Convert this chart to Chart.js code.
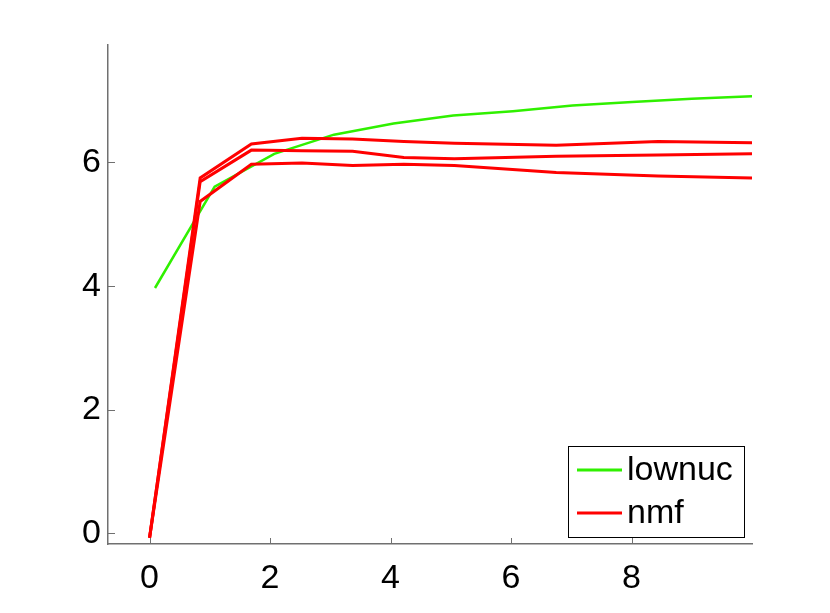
<!DOCTYPE html>
<html><head><meta charset="utf-8">
<script src="https://cdn.jsdelivr.net/npm/chart.js@4/dist/chart.umd.min.js"></script>
<style>html,body{margin:0;padding:0;background:#fff}</style>
</head><body>
<canvas id="c" width="830" height="613"></canvas>
<script>
const xTicks = [0, 2, 4, 6, 8];
const yTicks = [0, 2, 4, 6];
const seriesNames = ['lownuc', 'nmf'];
const xLownuc = [0.09, 1.08, 2.07, 3.06, 4.05, 5.04, 6.03, 7.02, 8.01, 9.0, 10];
const lownuc  = [3.97, 5.61, 6.14, 6.45, 6.63, 6.76, 6.83, 6.92, 6.98, 7.03, 7.07];
const xNmf = [0, 0.84, 1.69, 2.53, 3.37, 4.22, 5.06, 6.75, 8.44, 10];
const nmfA = [-0.07, 5.75, 6.30, 6.39, 6.38, 6.34, 6.31, 6.28, 6.34, 6.32];
const nmfB = [-0.07, 5.69, 6.20, 6.19, 6.18, 6.08, 6.06, 6.10, 6.12, 6.14];
const nmfC = [-0.07, 5.37, 5.97, 5.99, 5.95, 5.97, 5.95, 5.84, 5.78, 5.75];

const GREEN = '#30f000', RED = '#ff0000', AXIS = '#707070';
const FONT = '"Liberation Sans", Arial, sans-serif';
const pts = (xs, ys) => xs.map((x, i) => ({x, y: ys[i]}));

const ds = [
  {label: seriesNames[0], data: pts(xLownuc, lownuc), borderColor: GREEN, borderWidth: 2.5, order: 4},
  {label: seriesNames[1], data: pts(xNmf, nmfA), borderColor: RED, borderWidth: 3, order: 1},
  {label: seriesNames[1], data: pts(xNmf, nmfB), borderColor: RED, borderWidth: 3, order: 2},
  {label: seriesNames[1], data: pts(xNmf, nmfC), borderColor: RED, borderWidth: 3, order: 3}
].map(d => Object.assign(d, {pointRadius: 0, tension: 0, fill: false}));

const innerTicks = {
  id: 'innerTicks',
  afterDatasetsDraw(chart) {
    const ctx = chart.ctx, xs = chart.scales.x, ys = chart.scales.y, a = chart.chartArea;
    ctx.save();
    ctx.strokeStyle = AXIS; ctx.lineWidth = 1;
    xs.ticks.forEach(t => {
      const p = Math.round(xs.getPixelForValue(t.value)) + 0.5;
      ctx.beginPath(); ctx.moveTo(p, a.bottom); ctx.lineTo(p, a.bottom - 6); ctx.stroke();
    });
    ys.ticks.forEach(t => {
      const p = Math.round(ys.getPixelForValue(t.value)) + 0.5;
      ctx.beginPath(); ctx.moveTo(a.left, p); ctx.lineTo(a.left + 7, p); ctx.stroke();
    });
    ctx.restore();
  }
};

const boxLegend = {
  id: 'boxLegend',
  afterDraw(chart) {
    const ctx = chart.ctx, a = chart.chartArea;
    const w = 176, h = 91;
    const L = a.right - 8 - w, T = a.bottom - 7 - h;
    ctx.save();
    ctx.fillStyle = '#fff'; ctx.fillRect(L, T, w, h);
    ctx.strokeStyle = '#000'; ctx.lineWidth = 1;
    ctx.strokeRect(Math.round(L) + 0.5, Math.round(T) + 0.5, w, h);
    const entries = [[seriesNames[0], GREEN], [seriesNames[1], RED]];
    entries.forEach((e, i) => {
      const y = T + 24 + i * 43;
      ctx.strokeStyle = e[1]; ctx.lineWidth = 3;
      ctx.beginPath(); ctx.moveTo(L + 9, y); ctx.lineTo(L + 54, y); ctx.stroke();
      ctx.fillStyle = '#000'; ctx.font = '34px ' + FONT;
      ctx.textBaseline = 'middle'; ctx.textAlign = 'left';
      ctx.fillText(e[0], L + 59, y + 1);
    });
    ctx.restore();
  }
};

new Chart(document.getElementById('c'), {
  type: 'line',
  data: {datasets: ds},
  options: {
    responsive: false, devicePixelRatio: 1, animation: false,
    layout: {padding: {left: 0, top: 45, right: 78, bottom: 0}},
    plugins: {legend: {display: false}, tooltip: {enabled: false}},
    scales: {
      x: {
        type: 'linear', min: -0.69, max: 10,
        afterBuildTicks: s => { s.ticks = xTicks.map(v => ({value: v})); },
        afterFit: s => { s.height = 69; },
        grid: {display: false, drawTicks: false},
        border: {display: true, color: AXIS, width: 1.5},
        ticks: {color: '#000', font: {family: FONT, size: 34}, padding: 14, maxRotation: 0}
      },
      y: {
        type: 'linear', min: -0.17, max: 7.9,
        afterBuildTicks: s => { s.ticks = yTicks.map(v => ({value: v})); },
        afterFit: s => { s.width = 108; },
        grid: {display: false, drawTicks: false},
        border: {display: true, color: AXIS, width: 1.5},
        ticks: {color: '#000', font: {family: FONT, size: 34}, padding: 7}
      }
    }
  },
  plugins: [innerTicks, boxLegend]
});
</script>
</body></html>
